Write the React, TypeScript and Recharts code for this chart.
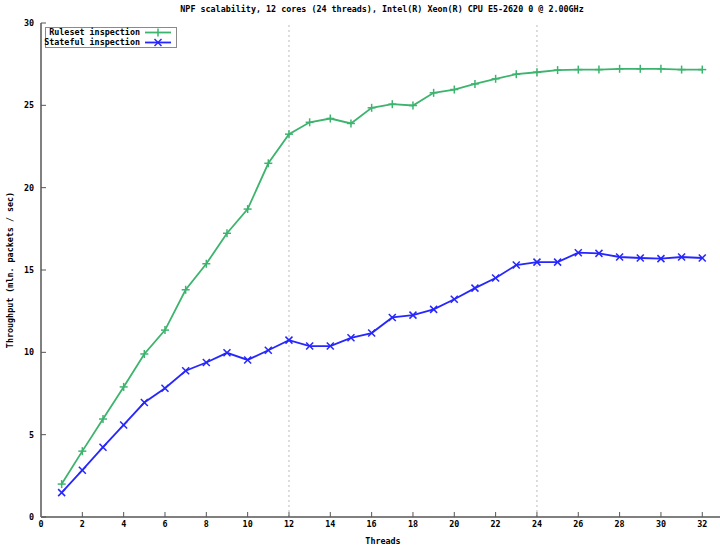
import React from "react";
import { LineChart, Line, XAxis, YAxis, ReferenceLine } from "recharts";

const threads = [1, 2, 3, 4, 5, 6, 7, 8, 9, 10, 11, 12, 13, 14, 15, 16, 17, 18, 19, 20, 21, 22, 23, 24, 25, 26, 27, 28, 29, 30, 31, 32];
const ruleset = [2.0, 4.0, 5.95, 7.9, 9.9, 11.35, 13.8, 15.38, 17.23, 18.7, 21.48, 23.25, 23.97, 24.2, 23.9, 24.85, 25.07, 24.99, 25.76, 25.96, 26.3, 26.61, 26.89, 27.01, 27.14, 27.17, 27.17, 27.22, 27.22, 27.22, 27.17, 27.17];
const stateful = [1.48, 2.84, 4.24, 5.59, 6.95, 7.82, 8.88, 9.38, 9.97, 9.54, 10.13, 10.74, 10.38, 10.38, 10.88, 11.17, 12.12, 12.26, 12.61, 13.22, 13.9, 14.51, 15.3, 15.48, 15.48, 16.05, 16.01, 15.79, 15.73, 15.69, 15.79, 15.73];
const xTicks = [0, 2, 4, 6, 8, 10, 12, 14, 16, 18, 20, 22, 24, 26, 28, 30, 32];
const yTicks = [0, 5, 10, 15, 20, 25, 30];

const title = "NPF scalability, 12 cores (24 threads), Intel(R) Xeon(R) CPU E5-2620 0 @ 2.00GHz";
const GREEN = "#3cb46e";
const BLUE = "#2626ff";
const FONT = "'DejaVu Sans Mono', monospace";
const AXIS = "#808080";

const data = threads.map((t, i) => ({ t, ruleset: ruleset[i], stateful: stateful[i] }));

function PlusDot(props: any) {
  const { cx, cy } = props;
  if (cx == null || cy == null) return null;
  return (
    <g stroke={GREEN} strokeWidth={1.5}>
      <line x1={cx - 4} y1={cy} x2={cx + 4} y2={cy} />
      <line x1={cx} y1={cy - 4} x2={cx} y2={cy + 4} />
    </g>
  );
}

function CrossDot(props: any) {
  const { cx, cy } = props;
  if (cx == null || cy == null) return null;
  return (
    <g stroke={BLUE} strokeWidth={1.5}>
      <line x1={cx - 3.5} y1={cy - 3.5} x2={cx + 3.5} y2={cy + 3.5} />
      <line x1={cx - 3.5} y1={cy + 3.5} x2={cx + 3.5} y2={cy - 3.5} />
    </g>
  );
}

function LegendBox() {
  const row = (label: string, color: string, cross: boolean) => (
    <div style={{ display: "flex", alignItems: "center", justifyContent: "flex-end", height: 9.5, whiteSpace: "nowrap" }}>
      <span>{label}</span>
      <svg width={30} height={9} style={{ marginLeft: 4, flex: "none" }}>
        <line x1={1} y1={4.5} x2={27} y2={4.5} stroke={color} strokeWidth={1.8} />
        {cross ? (
          <g stroke={color} strokeWidth={1.5}>
            <line x1={10.5} y1={1} x2={17.5} y2={8} />
            <line x1={10.5} y1={8} x2={17.5} y2={1} />
          </g>
        ) : (
          <line x1={14} y1={0.5} x2={14} y2={8.5} stroke={color} strokeWidth={1.5} />
        )}
      </svg>
    </div>
  );
  return (
    <div
      style={{
        position: "absolute",
        left: 45,
        top: 27,
        border: "1px solid #8a8a8a",
        background: "#fff",
        padding: "0px 2px 0px 0px",
        fontFamily: FONT,
        fontSize: 8.4,
        fontWeight: "bold",
        color: "#000",
        width: 128,
        lineHeight: "9.5px",
      }}
    >
      {row("Ruleset inspection", GREEN, false)}
      {row("Stateful inspection", BLUE, true)}
    </div>
  );
}

const tickStyle = { fontFamily: FONT, fontSize: 8.4, fontWeight: "bold", fill: "#000" };

export default function App() {
  return (
    <div style={{ position: "absolute", left: 0, top: 0, width: 720, height: 545, overflow: "hidden", background: "#fff" }}>
      <div
        style={{
          position: "absolute",
          left: 0,
          width: 764,
          top: 4,
          textAlign: "center",
          fontFamily: FONT,
          fontSize: 8.4,
          fontWeight: "bold",
        }}
      >
        {title}
      </div>
      <LineChart width={730} height={545} data={data} margin={{ top: 23, right: 5, bottom: 0, left: 0 }}>
        <XAxis
          dataKey="t"
          type="number"
          domain={[0, 33.1]}
          ticks={xTicks}
          interval={0}
          height={28}
          tickSize={-5}
          tickMargin={9}
          tick={tickStyle}
          axisLine={{ stroke: AXIS, strokeWidth: 2 }}
          tickLine={{ stroke: "#555" }}
          label={{ value: "Threads", position: "insideBottom", offset: 0, dy: -1, style: { ...tickStyle } }}
        />
        <XAxis
          xAxisId="top"
          dataKey="t"
          type="number"
          orientation="top"
          domain={[0, 33.1]}
          ticks={xTicks}
          interval={0}
          height={0}
          tickSize={-5}
          tick={false}
          axisLine={{ stroke: "#555", strokeWidth: 1.5 }}
          tickLine={{ stroke: "#555" }}
        />
        <YAxis
          type="number"
          domain={[0, 30]}
          ticks={yTicks}
          interval={0}
          width={41}
          tickSize={-5}
          tickMargin={12}
          tick={tickStyle}
          axisLine={{ stroke: AXIS, strokeWidth: 2 }}
          tickLine={{ stroke: "#555" }}
          label={{
            value: "Throughput (mln. packets / sec)",
            angle: -90,
            position: "insideLeft",
            offset: 0,
            dx: 10,
            style: { ...tickStyle, textAnchor: "middle" },
          }}
        />
        <YAxis
          yAxisId="right"
          orientation="right"
          type="number"
          domain={[0, 30]}
          ticks={yTicks}
          width={0}
          tickSize={-6}
          tick={false}
          axisLine={{ stroke: "#555" }}
          tickLine={{ stroke: "#555" }}
        />
        <ReferenceLine x={12} stroke="#bbbbbb" strokeDasharray="2 3" strokeWidth={1} />
        <ReferenceLine x={24} stroke="#bbbbbb" strokeDasharray="2 3" strokeWidth={1} />
        <Line
          dataKey="ruleset"
          name="Ruleset inspection"
          stroke={GREEN}
          strokeWidth={1.8}
          dot={<PlusDot />}
          activeDot={false}
          isAnimationActive={false}
        />
        <Line
          dataKey="stateful"
          name="Stateful inspection"
          stroke={BLUE}
          strokeWidth={1.8}
          dot={<CrossDot />}
          activeDot={false}
          isAnimationActive={false}
        />
      </LineChart>
      <LegendBox />
    </div>
  );
}
